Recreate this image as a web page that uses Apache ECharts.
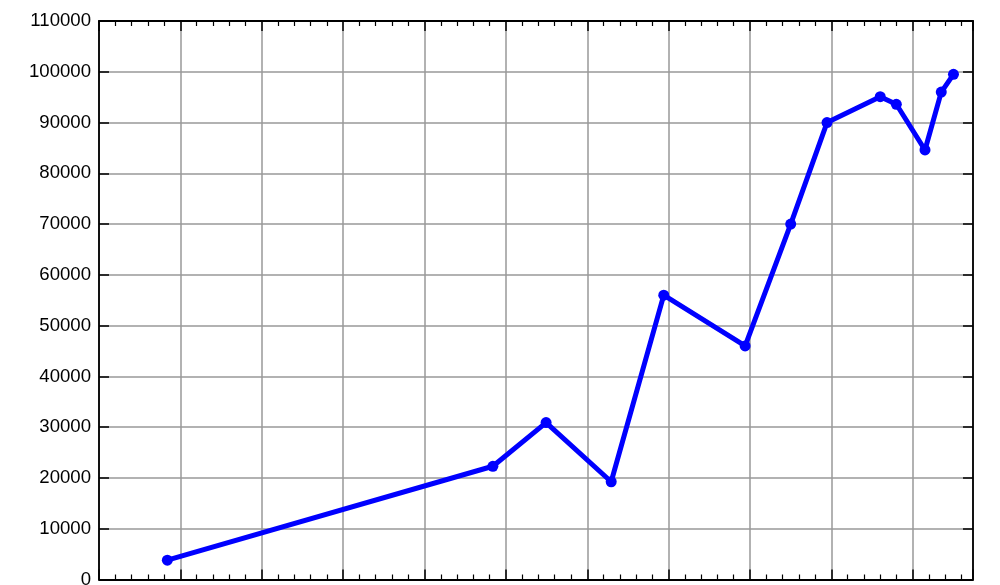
<!DOCTYPE html>
<html>
<head>
<meta charset="utf-8">
<script src="https://cdn.jsdelivr.net/npm/echarts@6/dist/echarts.min.js"></script>
<style>
html,body{margin:0;padding:0;background:#fff;}
#c{width:1000px;height:585px;}
</style>
</head>
<body>
<div id="c"></div>
<script>
const xValues = [4.2, 24.2, 27.47, 31.47, 34.7, 39.7, 42.5, 44.73, 48.0, 48.99, 50.75, 51.75, 52.5];
const yValues = [3800, 22300, 30900, 19250, 56000, 46000, 70000, 90000, 95100, 93600, 84600, 96000, 99500];
const yTicks = [0, 10000, 20000, 30000, 40000, 50000, 60000, 70000, 80000, 90000, 100000, 110000];

const chart = echarts.init(document.getElementById('c'), null, {renderer: 'canvas'});
const axisLineStyle = {color: '#000', width: 1.8};
chart.setOption({
  animation: false,
  backgroundColor: '#fff',
  grid: {left: 99, right: 27, top: 21, bottom: 5.5, containLabel: false, outerBoundsMode: 'none'},
  xAxis: [{
    type: 'value', min: 0, max: 53.7, interval: 5, position: 'bottom',
    axisLine: {show: true, onZero: false, lineStyle: axisLineStyle},
    axisTick: {show: true, inside: true, length: 10, lineStyle: {color: '#000', width: 1.5}},
    minorTick: {show: true, splitNumber: 5, length: 5, lineStyle: {color: '#000', width: 1.2}},
    axisLabel: {show: false},
    splitLine: {show: true, lineStyle: {color: '#999', width: 1.5}}
  }, {
    type: 'value', min: 0, max: 53.7, interval: 5, position: 'top',
    axisLine: {show: true, onZero: false, lineStyle: axisLineStyle},
    axisTick: {show: true, inside: true, length: 10, lineStyle: {color: '#000', width: 1.5}},
    minorTick: {show: true, splitNumber: 5, length: 5, lineStyle: {color: '#000', width: 1.2}},
    axisLabel: {show: false},
    splitLine: {show: false}
  }],
  yAxis: [{
    type: 'value', min: 0, max: 110000, interval: 10000, position: 'left',
    axisLine: {show: true, onZero: false, lineStyle: axisLineStyle},
    axisTick: {show: true, inside: true, length: 10, lineStyle: {color: '#000', width: 1.5}},
    axisLabel: {show: true, color: '#000', fontFamily: 'Liberation Sans', fontSize: 18.6, margin: 8,
      formatter: v => yTicks.includes(v) ? String(v) : ''},
    splitLine: {show: true, lineStyle: {color: '#999', width: 1.5}}
  }, {
    type: 'value', min: 0, max: 110000, interval: 10000, position: 'right',
    axisLine: {show: true, onZero: false, lineStyle: axisLineStyle},
    axisTick: {show: true, inside: true, length: 10, lineStyle: {color: '#000', width: 1.5}},
    axisLabel: {show: false},
    splitLine: {show: false}
  }],
  series: [{
    type: 'line',
    data: xValues.map((x, i) => [x, yValues[i]]),
    lineStyle: {color: '#0000ff', width: 5},
    itemStyle: {color: '#0000ff'},
    symbol: 'circle', symbolSize: 11,
    clip: false
  }]
});
</script>
</body>
</html>
